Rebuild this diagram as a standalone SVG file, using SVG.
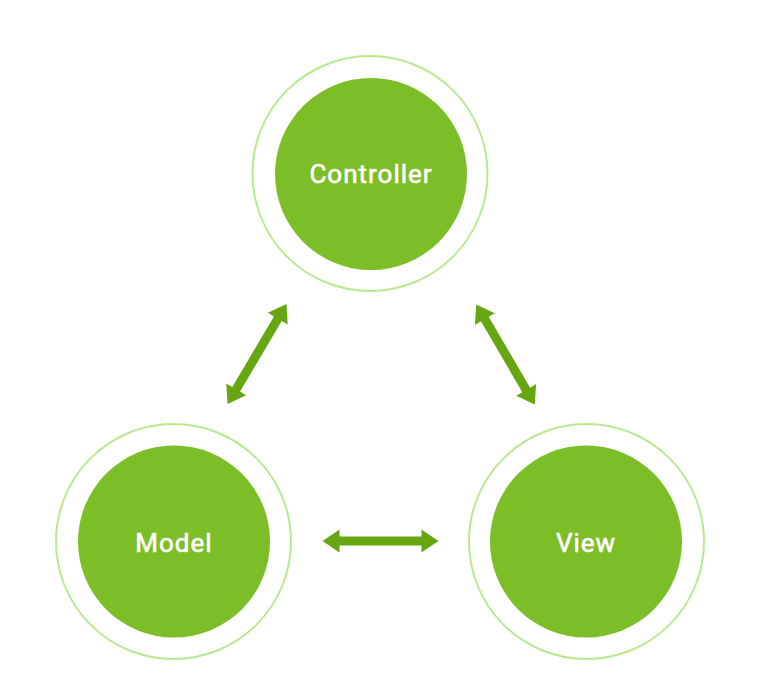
<svg xmlns="http://www.w3.org/2000/svg" xmlns:xlink="http://www.w3.org/1999/xlink" width="779" height="679" viewBox="0 0 779 679">
  <style>
    .ring { fill: #ffffff; stroke: #b9e88f; stroke-width: 2; }
    .core { fill: #7cbe27; }
    .label { fill: #ffffff; stroke: #ffffff; stroke-width: 0.6px; font-family: Roboto, "Liberation Sans", sans-serif; font-weight: 400; font-size: 26px; text-anchor: middle; letter-spacing: 1px; }
    .arrow { fill: #66a711; }
  </style>
  <defs>
    <!-- double-headed arrow, 116 long, centred on the origin -->
    <path id="dbl" d="M-58,0 L-41,-11.5 L-41,-4.5 L41,-4.5 L41,-11.5 L58,0 L41,11.5 L41,4.5 L-41,4.5 L-41,11.5 Z"/>
  </defs>
  <rect width="779" height="679" fill="#ffffff"/>

  <g id="connectors" class="arrow">
    <use xlink:href="#dbl" transform="translate(257,354) rotate(-59.5)"/>
    <use xlink:href="#dbl" transform="translate(505.5,354.5) rotate(59.7)"/>
    <use xlink:href="#dbl" transform="translate(380.5,541)"/>
  </g>

  <g id="controller">
    <circle class="ring" cx="370" cy="173.5" r="117.5"/>
    <circle class="core" cx="371" cy="174" r="96"/>
    <text class="label" x="371" y="183">Controller</text>
  </g>

  <g id="model">
    <circle class="ring" cx="173.5" cy="541.5" r="117.5"/>
    <circle class="core" cx="174" cy="541.5" r="96"/>
    <text class="label" x="174" y="551.5">Model</text>
  </g>

  <g id="view">
    <circle class="ring" cx="586.5" cy="541.5" r="117.5"/>
    <circle class="core" cx="586" cy="541.5" r="96"/>
    <text class="label" x="586" y="551.5">View</text>
  </g>
</svg>
